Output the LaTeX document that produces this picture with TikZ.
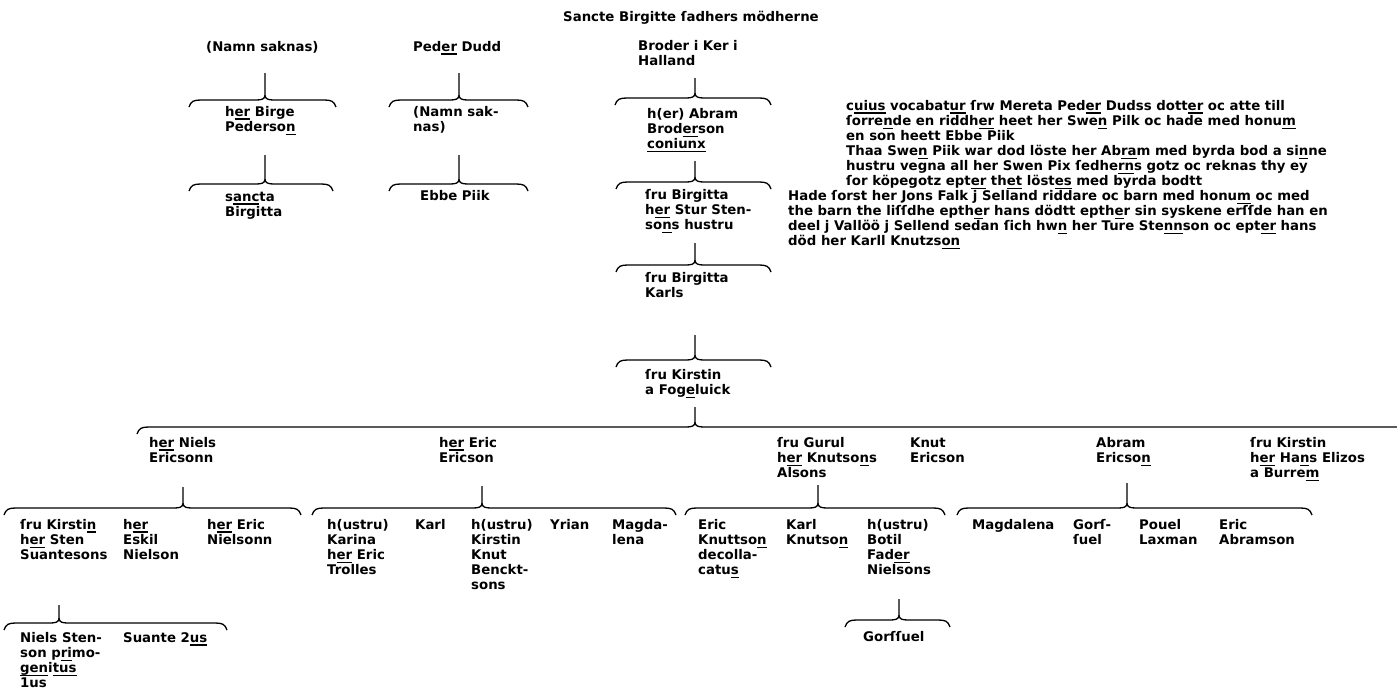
\documentclass[tikz,border=0pt]{standalone}
\usepackage{fontspec}
\setmainfont{DejaVu Sans}
\newcommand\rows[1]{\begin{tabular}[t]{@{}l@{}}#1\end{tabular}}
\newcommand\abu[1]{\setbox0\hbox{#1}\rlap{\rule[-3.5pt]{\wd0}{1.1pt}}\box0\relax}
\newcommand\brce[4]{\draw[fambrace,shift={(#1)}] (-#3-3,7) .. controls (-#3-1,1) and (-#3+2,0) .. (-#3+9,0) -- (-9,0) .. controls (-3,0) and (0,-1) .. (0,-5) .. controls (0,-1) and (3,0) .. (9,0) -- (#4-9,0) .. controls (#4-2,0) and (#4+1,1) .. (#4+3,7) (0,-5) -- (0,-#2);}
\begin{document}
\begin{tikzpicture}[x=1pt,y=-1pt,every node/.style={font=\bfseries\fontsize{13.3}{15.1}\selectfont,inner sep=0pt,anchor=base west},fambrace/.style={line width=1.3pt,line join=round}]
\path[use as bounding box,fill=white] (0,0) rectangle (1397,689);
\node (title) at (563,21) {Sancte Birgitte ſadhers mödherne};
\node (namn) at (206,51) {(Namn saknas)};
\node (peder) at (413,51) {Ped\abu{er} Dudd};
\node (broder) at (638,50) {\rows{Broder i Ker i\\Halland}};
\node (birge) at (225,116) {\rows{h\abu{er} Birge\\Pederso\abu{n}}};
\node (namn2) at (413,116) {\rows{(Namn sak-\\nas)}};
\node (abram) at (647,118) {\rows{h(er) Abram\\Brod\abu{er}son\\\abu{coniunx}}};
\node (birgitta) at (225,201) {\rows{s\abu{anc}ta\\Birgitta}};
\node (ebbe) at (420,200) {Ebbe Piik};
\node (stur) at (645,199) {\rows{ſru Birgitta\\h\abu{er} Stur Sten-\\so\abu{n}s hustru}};
\node (karls) at (645,282) {\rows{ſru Birgitta\\Karls}};
\node (fogel) at (645,379) {\rows{ſru Kirstin\\a Fog\abu{e}luick}};
\node (desc1) at (846,110) {\rows{c\abu{uius} vocabat\abu{ur} ſrw Mereta Ped\abu{er} Dudss dott\abu{er} oc atte till\\
ſorre\abu{n}de en riddh\abu{er} heet her Swe\abu{n} Pilk oc hade med honu\abu{m}\\
en son heett Ebbe Piik\\
Thaa Swe\abu{n} Piik war dod löste her Ab\abu{ra}m med byrda bod a si\abu{n}ne\\
hustru vegna all her Swen Pix ſedhe\abu{rn}s gotz oc reknas thy ey\\
ſor köpegotz ept\abu{er} th\abu{et} löst\abu{es} med byrda bodtt}};
\node (desc2) at (788,200.6) {\rows{Hade ſorst her Jons Falk j Selland riddare oc barn med honu\abu{m} oc med\\
the barn the liſſdhe epth\abu{e}r hans dödtt epth\abu{e}r sin syskene erſſde han en\\
deel j Vallöö j Sellend sedan ſich hw\abu{n} her Ture Ste\abu{nn}son oc ept\abu{er} hans\\
död her Karll Knutzs\abu{on}}};
\node (niels) at (149,447) {\rows{h\abu{er} Niels\\Ericsonn}};
\node (eric) at (439,447) {\rows{h\abu{er} Eric\\Ericson}};
\node (gurul) at (777,447) {\rows{ſru Gurul\\h\abu{er} Knutso\abu{n}s\\Alsons}};
\node (knut) at (910,447) {\rows{Knut\\Ericson}};
\node (abramE) at (1096,447) {\rows{Abram\\Ericso\abu{n}}};
\node (kirstinH) at (1250,447) {\rows{ſru Kirstin\\h\abu{er} Ha\abu{n}s Elizos\\a Burre\abu{m}}};
\node (kirstinS) at (20,529) {\rows{ſru Kirsti\abu{n}\\h\abu{er} Sten\\Suantesons}};
\node (eskil) at (123,529) {\rows{h\abu{er}\\Eskil\\Nielson}};
\node (ericN) at (207,529) {\rows{h\abu{er} Eric\\Nielsonn}};
\node (karina) at (327,529) {\rows{h(ustru)\\Karina\\h\abu{er} Eric\\Trolles}};
\node (karl) at (415,529) {Karl};
\node (kirstinK) at (471,529) {\rows{h(ustru)\\Kirstin\\Knut\\Benckt-\\sons}};
\node (yrian) at (550,529) {Yrian};
\node (magda) at (612,529) {\rows{Magda-\\lena}};
\node (ericK) at (698,529) {\rows{Eric\\Knuttso\abu{n}\\decolla-\\catu\abu{s}}};
\node (karlK) at (786,529) {\rows{Karl\\Knutso\abu{n}}};
\node (botil) at (867,529) {\rows{h(ustru)\\Botil\\Fad\abu{er}\\Nielsons}};
\node (magdA) at (972,529) {Magdalena};
\node (gorf) at (1073,529) {\rows{Gorſ-\\ſuel}};
\node (pouel) at (1139,529) {\rows{Pouel\\Laxman}};
\node (ericA) at (1219,529) {\rows{Eric\\Abramson}};
\node (nielsS) at (20,642) {\rows{Niels Sten-\\son p\abu{ri}mo-\\\abu{gen}i\abu{tus}\\1us}};
\node (suante) at (123,642) {Suante 2\abu{us}};
\node (gorff) at (863,641) {Gorſſuel};
\coordinate (bBirge) at (265,100);
\coordinate (bBirgitta) at (265,184);
\coordinate (bPeder) at (459,100);
\coordinate (bEbbe) at (459,184);
\coordinate (bBroder) at (695,98);
\coordinate (bAbram) at (695,182);
\coordinate (bStur) at (695,265);
\coordinate (bKarls) at (695,360);
\coordinate (bFogel) at (695,427);
\coordinate (bNiels) at (183,508);
\coordinate (bEric) at (482,508);
\coordinate (bGurul) at (818,508);
\coordinate (bAbramE) at (1127,508);
\coordinate (bKirstin) at (59,623);
\coordinate (bBotil) at (899,620);
\brce{bBirge}{27}{73}{68}
\brce{bBirgitta}{29}{73}{65}
\brce{bPeder}{27}{67}{66}
\brce{bEbbe}{29}{67}{66}
\brce{bBroder}{20}{77}{73}
\brce{bAbram}{21}{76}{73}
\brce{bStur}{22}{76}{73}
\brce{bKarls}{25}{76}{73}
\brce{bFogel}{20}{555}{710}
\brce{bNiels}{21}{176}{115}
\brce{bEric}{22}{167}{191}
\brce{bGurul}{23}{130}{124}
\brce{bAbramE}{25}{167}{182}
\brce{bKirstin}{18}{52}{165}
\brce{bBotil}{21}{51}{48}
\end{tikzpicture}
\end{document}
